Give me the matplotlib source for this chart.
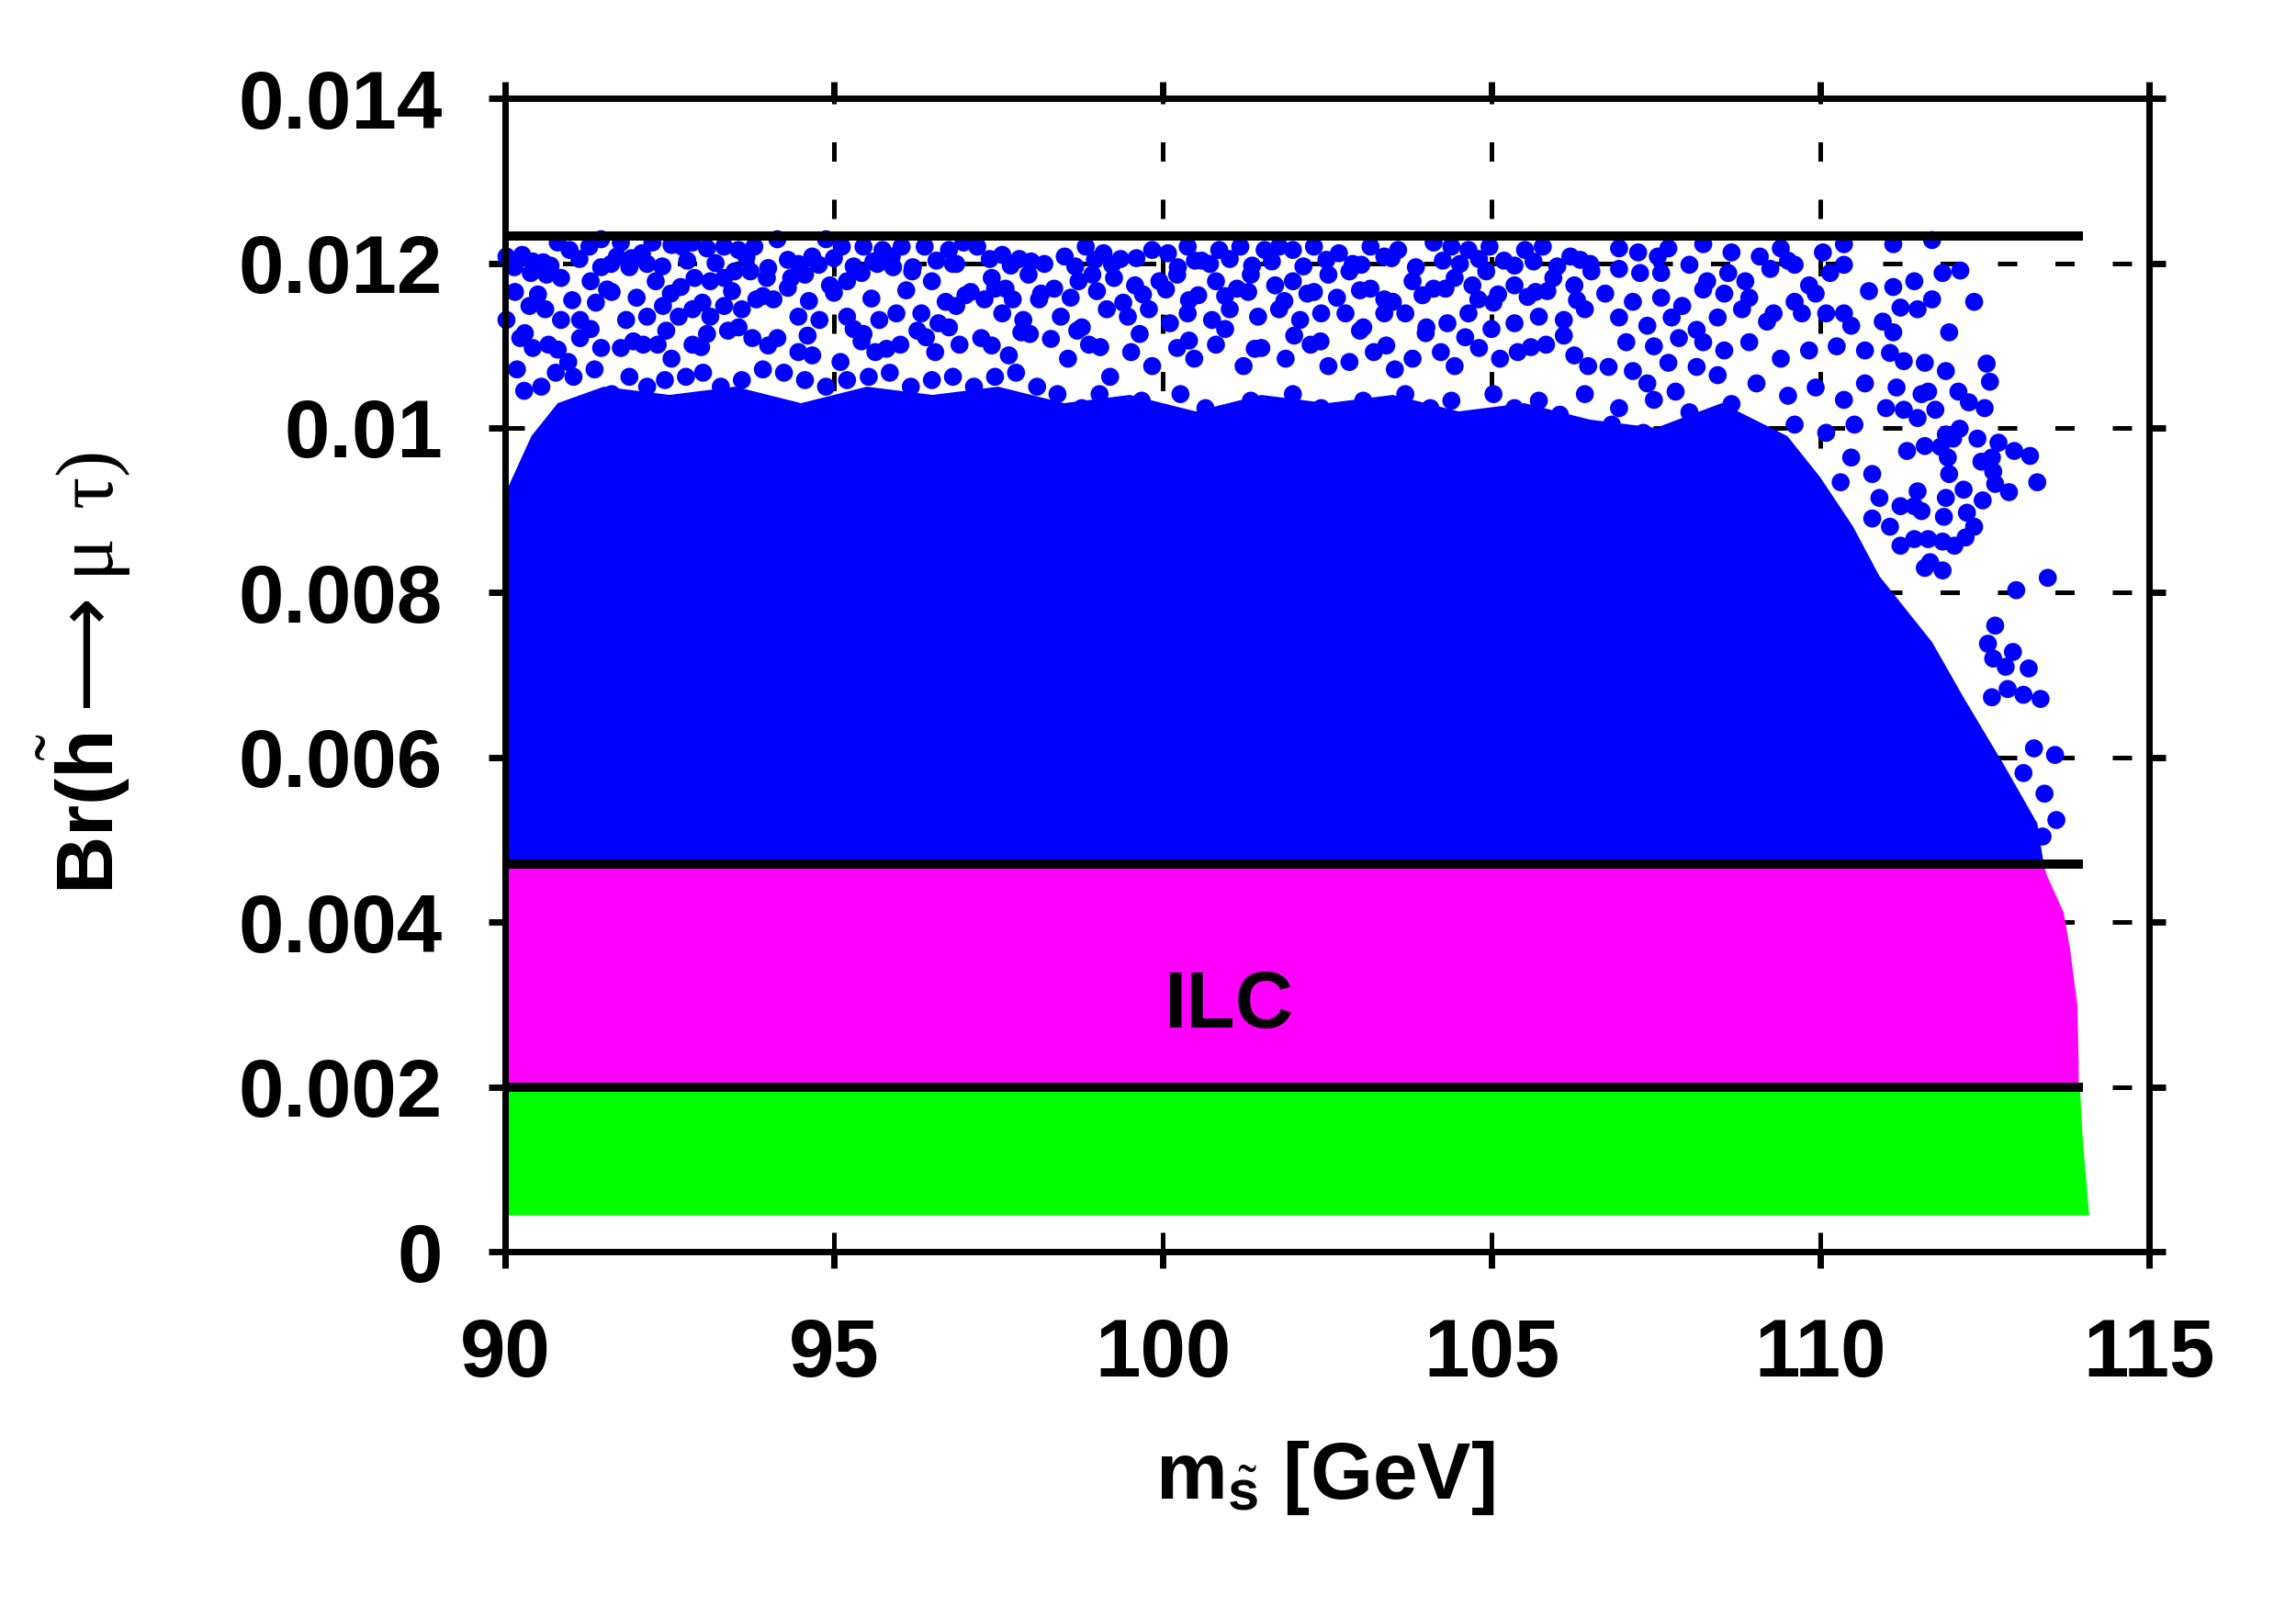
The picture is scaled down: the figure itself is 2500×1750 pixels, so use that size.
import numpy as np
import matplotlib
matplotlib.use("Agg")
import matplotlib.pyplot as plt

plt.rcParams['font.family'] = ['Liberation Sans', 'DejaVu Sans']
plt.rcParams['font.weight'] = 'bold'
plt.rcParams['mathtext.fontset'] = 'custom'
plt.rcParams['mathtext.rm'] = 'Liberation Serif:weight=normal'
plt.rcParams['mathtext.sf'] = 'DejaVu Sans:weight=normal'
plt.rcParams['mathtext.bf'] = 'Liberation Sans:weight=bold'
plt.rcParams['mathtext.default'] = 'rm'

# axis ticks
x_ticks = [90, 95, 100, 105, 110, 115]
y_ticks = [0, 0.002, 0.004, 0.006, 0.008, 0.010, 0.012, 0.014]
y_tick_labels = ["0", "0.002", "0.004", "0.006", "0.008", "0.01", "0.012", "0.014"]

# horizontal limit lines (Br values) and their right end in GeV
limit_levels = [0.01233, 0.0047, 0.0020]
limit_x_end = 114.0

# green band (Br < 0.002): lower edge and right edge (Br x 1e3, m)
green_low = 0.44
green_edge_br = [0.44, 1.0, 1.5, 2.0]
green_edge_m = [114.09, 114.03, 113.98, 113.95]

# magenta band (ILC reach): right edge
magenta_edge_br = [2.0, 2.25, 2.99, 3.67, 4.12, 4.58, 4.7]
magenta_edge_m = [113.93, 113.93, 113.91, 113.80, 113.70, 113.44, 113.40]

# blue: upper edge of the dense part of the scan (Br x 1e3)
blue_top_m = [90.0, 90.4, 90.8, 91.5, 92.5, 93.5, 94.5, 95.5, 96.5, 97.5, 98.5,
              99.5, 100.5, 101.5, 102.5, 103.5, 104.5, 105.5, 106.5, 107.5, 108.5,
              109.5, 110.0, 110.5, 110.9, 111.7, 112.2, 112.8, 113.3, 113.4]
blue_top_br = [9.2, 9.9, 10.3, 10.5, 10.4, 10.5, 10.3, 10.5, 10.4, 10.5, 10.3,
               10.4, 10.2, 10.4, 10.3, 10.4, 10.2, 10.3, 10.1, 10.0, 10.3,
               9.9, 9.4, 8.8, 8.2, 7.4, 6.7, 5.9, 5.2, 4.7]

# blue: scattered points above the dense part (m, Br x 1e3)
sparse_m = [
    # 90 - 98 GeV
    90.02, 90.26, 90.58, 90.80, 90.98, 91.28, 91.46, 91.76, 92.08, 92.24, 92.53, 92.69,
    92.85, 93.07, 93.33, 93.55, 93.79, 94.14, 94.46, 94.67, 94.88, 95.12, 95.45, 95.74,
    96.03, 96.38, 96.75, 96.97, 97.18, 97.56, 97.82, 98.20,
    90.39, 90.63, 90.85, 91.30, 91.46, 91.70, 91.89, 92.16, 92.29, 92.67, 92.88, 93.12,
    93.33, 93.49, 93.73, 93.98, 94.35, 94.56, 94.94, 95.20, 95.42, 95.66, 95.90, 96.19,
    96.49, 96.81, 97.08, 97.40, 97.61, 97.96,
    90.15, 90.37, 90.61, 90.85, 91.14, 91.38, 91.62, 91.84, 92.16, 92.40, 92.64, 92.85,
    93.12, 93.33, 93.60, 93.82, 94.08, 94.46, 94.78, 95.20, 95.45, 95.69, 95.95, 96.33,
    96.59, 96.86, 97.29, 97.56, 97.88, 98.12,
    90.02, 90.23, 90.42, 90.66, 90.96, 91.14, 91.46, 91.76, 92.10, 92.32, 92.53, 92.85,
    93.07, 93.39, 93.76, 94.14, 94.46, 94.67, 95.10, 95.42, 95.63, 96.01, 96.27, 96.54,
    96.91, 97.24, 97.66, 97.98,
    90.18, 90.29, 90.55, 90.77, 91.04, 91.36, 91.62, 91.89, 92.16, 92.43, 92.75, 93.01,
    93.28, 93.60, 93.92, 94.24, 94.56, 94.88, 95.20, 95.53, 95.85, 96.17, 96.49, 96.81,
    97.13, 97.45, 97.77, 98.09,
    # 98 - 106.6 GeV
    98.51, 98.83, 99.10, 99.36, 99.84, 100.08, 100.38, 100.59, 100.86, 101.18, 101.55,
    101.77, 101.98, 102.30, 102.68, 102.89, 103.16, 103.37, 103.58, 104.12, 104.39,
    104.65, 104.97, 105.19, 105.51, 105.78, 106.20, 106.50,
    98.35, 98.72, 98.93, 99.26, 99.58, 99.95, 100.22, 100.54, 100.81, 101.13, 101.34,
    101.71, 101.98, 102.30, 102.52, 102.84, 103.16, 103.37, 103.80, 104.12, 104.44,
    104.71, 104.92, 105.35, 105.67, 105.94, 106.26, 106.52,
    98.45, 98.77, 99.15, 99.47, 99.79, 100.11, 100.38, 100.75, 101.02, 101.45, 101.77,
    102.09, 102.41, 102.78, 103.05, 103.37, 103.69, 104.01, 104.33, 104.65, 105.03,
    105.35, 105.72, 106.10, 106.42,
    98.56, 98.88, 99.20, 99.52, 99.84, 100.22, 100.48, 100.81, 101.23, 101.50, 101.87,
    102.25, 102.52, 102.84, 103.21, 103.53, 103.80, 104.23, 104.44, 104.81, 105.13,
    105.40, 105.83, 106.26, 106.47,
    98.40, 98.77, 99.04, 99.36, 99.68, 100.00, 100.27, 100.65, 101.02, 101.34, 101.66,
    101.98, 102.41, 102.73, 103.05, 103.37, 103.69, 104.07, 104.39, 104.71, 105.03,
    105.35, 105.72, 106.04, 106.42,
    # extra rows between the above, 90 - 106.6 GeV
    90.14, 90.42, 90.69, 91.13, 91.61, 91.92, 92.39, 92.77, 93.20, 93.67,
    94.00, 94.30, 94.77, 95.00, 95.30, 95.60, 95.88, 96.20, 96.56, 96.86,
    97.37, 97.69, 98.00, 98.67, 98.97, 99.23, 99.60, 100.23, 100.49, 100.72,
    101.02, 101.36, 101.66, 102.14, 102.49, 103.02, 103.48, 103.85, 104.26, 104.52,
    104.81, 105.35, 105.64, 106.00, 106.35,
    90.50, 91.02, 91.55, 92.00, 92.52, 93.00, 93.45, 93.92, 94.30, 94.62,
    95.00, 95.57, 96.10, 96.70, 97.00, 97.45, 97.72, 98.15, 98.60, 99.00,
    99.40, 99.70, 100.05, 100.40, 100.95, 101.30, 101.85, 102.20, 102.65, 103.00,
    103.50, 103.95, 104.30, 104.80, 105.10, 105.55, 105.85, 106.30,
    90.30, 90.80, 91.30, 91.95, 92.45, 92.98, 93.55, 94.00, 94.60, 95.30,
    95.80, 96.40, 96.75, 97.40, 97.85, 98.30, 98.70, 99.05, 99.65, 100.40,
    100.95, 101.40, 102.00, 102.40, 103.00, 103.40, 104.00, 104.60, 105.00, 105.60,
    106.10,
    # 106.6 - 110.5 GeV, upper part
    106.94, 107.23, 107.53, 107.69, 108.22, 108.65, 109.08, 109.40, 109.61, 110.04, 110.36,
    106.94, 107.26, 107.58, 108.01, 108.28, 108.60, 108.86, 109.24, 109.51, 109.83,
    110.15, 110.36,
    106.73, 107.15, 107.58, 107.90, 108.22, 108.54, 108.92, 109.29, 109.61, 109.93, 110.36,
    106.94, 107.37, 107.74, 108.12, 108.44, 108.81, 109.19, 109.72, 110.09, 110.47,
    107.05, 107.47, 107.85, 108.22, 108.54, 108.92, 109.40, 109.83, 110.25, 110.68,
    106.78, 107.15, 107.69, 108.12, 108.44, 107.37, 107.80, 106.94, 107.47, 108.01,
    106.83, 107.31,
    109.03, 109.51, 109.93, 110.36, 110.68, 108.65, 109.61, 110.09, 110.52, 110.47,
    110.79, 110.31,
    # right-hand tail
    111.11, 111.70, 111.86, 112.13, 111.43, 110.74, 111.11, 111.22, 111.48, 111.70,
    112.34, 111.96, 110.95, 111.11,
    111.06, 111.27, 111.59, 111.91, 112.53, 112.58, 111.16, 111.54, 111.64, 112.10,
    112.26, 112.50, 111.00, 111.27, 111.48, 111.75, 112.12, 112.39, 112.71, 112.95,
    113.19, 111.32, 111.59, 111.83, 111.91, 112.02, 111.94, 112.45, 112.61, 112.63,
    112.66, 112.87, 113.30, 111.96, 112.18, 111.48, 111.91, 112.47, 111.88, 112.23,
    112.34, 112.21, 111.43, 111.54, 111.22, 110.90, 110.79, 111.06, 111.22, 111.43,
    111.64, 111.86, 112.04, 111.67, 111.86, 111.59, 112.98, 113.46, 112.66, 112.55,
    112.63, 112.82, 112.93, 113.17, 112.85, 113.09, 113.35, 112.61, 113.57, 113.41,
    113.59, 113.38, 113.25, 113.09,
]
sparse_br = [
    12.08, 12.10, 12.01, 12.25, 12.16, 12.20, 12.29, 12.25, 12.12, 12.25, 12.22, 12.20,
    12.25, 12.18, 12.20, 12.16, 12.20, 12.29, 11.99, 12.08, 12.29, 12.20, 12.20, 12.16,
    12.20, 12.20, 12.16, 12.25, 12.20, 12.10, 12.05, 11.99,
    11.88, 11.86, 11.82, 11.78, 11.95, 12.08, 11.95, 11.99, 11.78, 11.71, 11.82, 11.78,
    11.82, 11.90, 11.90, 11.82, 11.82, 11.86, 11.73, 11.78, 11.88, 11.99, 11.95, 11.90,
    11.78, 11.99, 11.65, 11.82, 11.69, 11.86,
    11.65, 11.48, 11.44, 11.31, 11.31, 11.52, 11.65, 11.31, 11.35, 11.48, 11.35, 11.44,
    11.35, 11.48, 11.44, 11.56, 11.56, 11.35, 11.31, 11.35, 11.14, 11.31, 11.39, 11.39,
    11.27, 11.48, 11.56, 11.39, 11.31, 11.56,
    11.31, 11.09, 10.97, 11.01, 10.80, 11.09, 10.97, 10.97, 11.01, 11.01, 10.84, 11.01,
    11.14, 11.18, 11.09, 11.09, 10.92, 10.88, 10.80, 11.05, 10.92, 11.01, 11.18, 10.92,
    11.01, 11.09, 10.88, 11.14,
    10.71, 10.45, 10.50, 10.67, 10.62, 10.71, 10.41, 10.62, 10.50, 10.58, 10.62, 10.67,
    10.50, 10.58, 10.71, 10.67, 10.58, 10.50, 10.58, 10.62, 10.67, 10.50, 10.58, 10.62,
    10.50, 10.62, 10.67, 10.50,
    12.08, 12.20, 12.12, 12.05, 12.16, 12.12, 12.20, 12.03, 12.16, 12.20, 12.16,
    12.20, 12.16, 12.20, 12.12, 11.99, 12.20, 12.08, 12.16, 12.25, 12.20,
    12.16, 12.20, 12.03, 12.16, 12.20, 12.08, 11.99,
    11.69, 11.78, 11.86, 11.82, 11.73, 11.78, 11.86, 11.61, 11.78, 11.69, 11.86,
    11.73, 11.78, 11.65, 11.86, 11.90, 11.69, 11.56, 11.78, 11.69, 11.82,
    11.73, 11.90, 11.73, 11.65, 11.82, 11.73, 11.90,
    11.35, 11.22, 11.44, 11.35, 11.44, 11.27, 11.39, 11.31, 11.44, 11.35, 11.44,
    11.31, 11.39, 11.39, 11.22, 11.39, 11.39, 11.22, 11.27, 11.39, 11.52,
    11.27, 11.35, 11.31, 11.44,
    10.84, 11.01, 10.62, 10.92, 10.75, 10.97, 10.84, 11.01, 10.75, 10.97, 10.84,
    11.01, 10.75, 10.80, 10.92, 10.71, 10.84, 10.92, 10.75, 10.97, 10.84,
    10.92, 11.01, 10.88, 10.75,
    10.41, 10.24, 10.41, 10.07, 10.33, 10.16, 10.41, 10.24, 10.07, 10.33, 10.16,
    10.41, 10.24, 10.07, 10.33, 10.16, 10.41, 10.24, 10.33, 10.07, 10.41,
    10.24, 10.33, 10.16, 10.41,
    11.95, 12.02, 11.97, 12.05, 11.99, 12.06, 11.96, 12.03, 12.00, 12.07,
    11.94, 12.04, 11.98, 12.06, 11.96, 12.02, 12.08, 11.95, 12.03, 11.99,
    12.05, 11.97, 12.02, 11.96, 12.04, 11.98, 12.06, 11.95, 12.03, 11.99,
    12.05, 11.97, 12.02, 11.96, 12.04, 11.98, 12.06, 11.95, 12.03, 11.99,
    12.05, 11.97, 12.02, 11.96, 12.04,
    11.62, 11.55, 11.68, 11.58, 11.63, 11.52, 11.66, 11.60, 11.70, 11.54,
    11.64, 11.57, 11.67, 11.53, 11.61, 11.69, 11.56, 11.63, 11.58, 11.66,
    11.52, 11.62, 11.68, 11.55, 11.60, 11.65, 11.54, 11.63, 11.58, 11.67,
    11.53, 11.61, 11.69, 11.56, 11.62, 11.59, 11.66, 11.55,
    11.15, 10.95, 11.20, 11.05, 11.18, 10.98, 11.22, 11.00, 11.12, 11.20,
    10.96, 11.10, 11.22, 11.00, 11.16, 11.08, 11.18, 10.98, 11.14, 11.06,
    11.20, 10.96, 11.12, 11.05, 11.18, 11.00, 11.15, 11.10, 11.20, 10.98,
    11.12,
    12.18, 12.13, 12.08, 12.18, 12.23, 12.13, 12.08, 12.18, 11.98, 12.13, 12.23,
    11.93, 11.88, 11.88, 11.98, 11.78, 11.88, 11.78, 11.93, 12.03, 11.73,
    11.88, 11.98,
    11.63, 11.53, 11.58, 11.48, 11.68, 11.63, 11.58, 11.39, 11.53, 11.63, 11.39,
    11.34, 11.24, 11.34, 11.19, 11.34, 11.44, 11.29, 11.39, 11.39, 11.24,
    11.04, 10.99, 11.09, 11.04, 10.94, 11.04, 10.84, 10.94, 10.99, 10.94,
    10.74, 10.69, 10.79, 10.74, 10.64, 10.54, 10.44, 10.24, 10.34, 10.19,
    10.04, 9.94,
    10.54, 10.39, 10.49, 10.34, 10.54, 10.29, 10.04, 9.94, 10.04, 9.64,
    9.44, 9.34,
    12.23, 12.28, 11.88, 11.91, 11.78, 11.66, 11.71, 11.46, 11.44, 11.56,
    11.53, 11.16, 11.29, 11.16,
    10.91, 10.81, 10.79, 10.69, 10.78, 10.56, 10.49, 10.41, 10.44, 10.44,
    10.31, 10.24, 10.24, 10.22, 10.12, 10.22, 9.99, 9.87, 9.82, 9.72,
    9.66, 9.72, 9.78, 9.77, 9.92, 9.87, 9.64, 9.59, 9.64, 9.47,
    9.32, 9.22, 9.34, 9.44, 9.25, 9.23, 9.15, 9.12, 8.92, 8.97,
    8.80, 8.67, 9.05, 8.99, 9.05, 9.15, 8.90, 8.80, 8.57, 8.65,
    8.65, 8.62, 8.57, 8.37, 8.27, 8.30, 8.03, 8.18, 7.60, 7.38,
    7.20, 7.10, 7.28, 7.08, 6.83, 6.76, 6.71, 6.73, 6.03, 5.56,
    5.24, 5.04, 6.11, 5.81,
]

blue = '#0000ff'
magenta = '#ff00ff'
green = '#00ff00'

fig = plt.figure(figsize=(25, 17.5), dpi=100)
ax = fig.add_axes([0.22, 0.2211, 0.716, 0.7177])

# dashed grid behind everything
for xv in x_ticks[1:-1]:
    ax.axvline(xv, color='black', lw=3.6, ls=(0, (4.2, 8.3)), zorder=0.5)
for yv in y_ticks[1:-1]:
    ax.axhline(yv, color='black', lw=3.6, ls=(0, (4.2, 8.3)), zorder=0.5)

# green region
gx = np.concatenate([[90.0], green_edge_m, [90.0]])
gy = np.concatenate([[green_low], green_edge_br, [2.0]]) * 1e-3
ax.fill(gx, gy, color=green, lw=0, zorder=2)

# magenta region
mx = np.concatenate([[90.0], magenta_edge_m, [90.0]])
my = np.concatenate([[2.0], magenta_edge_br, [4.7]]) * 1e-3
ax.fill(mx, my, color=magenta, lw=0, zorder=2)

# blue dense region
bx = np.concatenate([blue_top_m, [blue_top_m[-1], 90.0]])
by = np.concatenate([blue_top_br, [4.7, 4.7]]) * 1e-3
ax.fill(bx, by, color=blue, lw=0, zorder=2)

# scattered blue points
ax.scatter(sparse_m, np.array(sparse_br) * 1e-3, s=200, color=blue,
           edgecolors='none', zorder=2.1, clip_on=False)

# limit lines
for lv in limit_levels:
    ax.plot([90, limit_x_end], [lv, lv], color='black', lw=7.2,
            solid_capstyle='butt', zorder=3)

ax.text(101.0, 0.00297, 'ILC', fontsize=63, fontweight='bold',
        ha='center', va='center', zorder=4)

ax.set_xlim(90, 115)
ax.set_ylim(0, 0.014)
ax.set_xticks(x_ticks)
ax.set_yticks(y_ticks)
ax.set_yticklabels(y_tick_labels)

for sp in ax.spines.values():
    sp.set_linewidth(5)
    sp.set_zorder(5)

ax.tick_params(direction='out', top=True, right=True, length=13, width=5,
               labelsize=64)
ax.tick_params(axis='x', pad=38)
ax.tick_params(axis='y', pad=36)
for lab in ax.get_xticklabels() + ax.get_yticklabels():
    lab.set_fontweight('bold')

fig.text(91 / 2500, 1 - 733 / 1750,
         r'Br($\tilde{\mathbf{h}}\mathsf{\longrightarrow}\mu\ \tau)$',
         rotation=90, ha='center', va='center', fontsize=63, fontweight='bold')
fig.text(1443 / 2500, 1 - 1610 / 1750,
         r'm$_{\tilde{\mathbf{s}}}$ [GeV]',
         ha='center', va='center', fontsize=63, fontweight='bold')

fig.savefig('out.png', dpi=100)
